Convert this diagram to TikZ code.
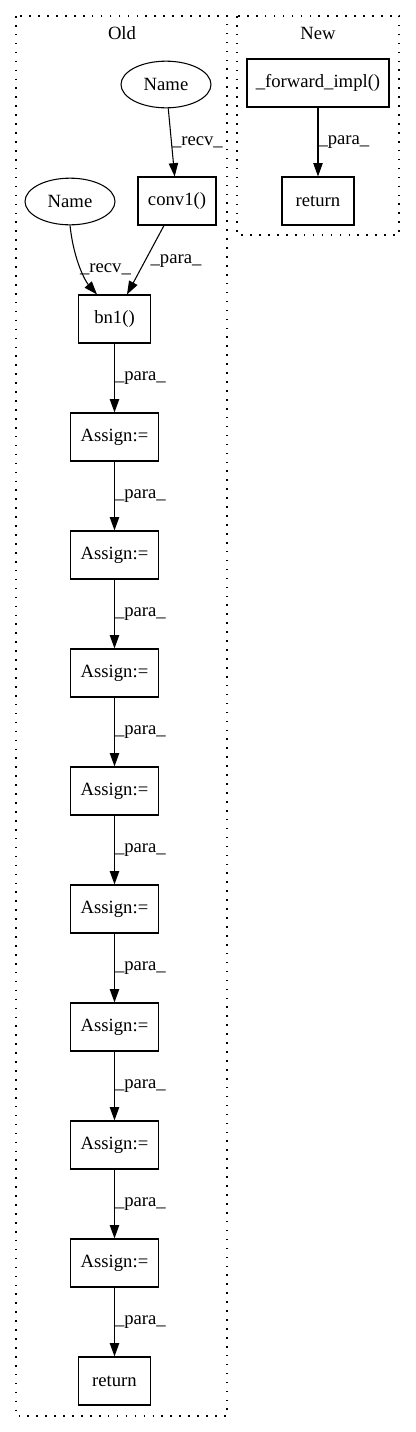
\documentclass[tikz,border=0pt]{standalone}
\usepackage{fontspec}
\setmainfont{Liberation Serif}
\usetikzlibrary{arrows.meta,shapes.geometric,calc}

\begin{document}
\begin{tikzpicture}
	[x=0.75pt, y=-0.75pt,
	every node/.style = {font=\fontsize{14pt}{16pt}\selectfont, inner sep=0pt},
	box/.style = {shape=rectangle, draw, line width=0.8pt, minimum height=36pt, minimum width=#1},
	box/.default = 54pt,
	oval/.style = {shape=ellipse, draw, line width=0.8pt, minimum height=35pt, minimum width=67.5pt},
	edge/.style = {draw, line width=0.8pt, -{Triangle[length=10pt,width=7pt]}},
	lbl/.style = {anchor=west},
	cluster/.style = {draw, line width=0.8pt, dash pattern=on 1.2pt off 5.5pt}]
	\useasboundingbox (0,0) rectangle (416,1432);
	% clusters
	\draw[cluster] (16,16) rectangle (227,1416);
	\draw[cluster] (237,16) rectangle (399,235);
	\node (oldlbl) at (122,33) {Old};
	\node (newlbl) at (318,33) {New};
	% old
	\node[oval] (name1) at (166,84.5) {Name};
	\node[box=58.5pt] (conv1) at (177,201) {conv1()};
	\node[oval] (name2) at (70,201.5) {Name};
	\node[box] (bn1) at (114.5,319) {bn1()};
	\foreach \i in {1,...,8}
		\node[box=66pt] (assign\i) at (114.5,{319+118*\i}) {Assign:=};
	\node[box] (ret1) at (114.5,1381) {return};
	% new
	\node[box=106.5pt] (fwd) at (318,83) {\_forward\_impl()};
	\node[box] (ret2) at (318,201) {return};
	% edges
	\draw[edge] (name1) -- node[lbl, pos=0.5]{\_recv\_} (conv1);
	\draw[edge] (name2.south) .. controls (74,262) and (86,282) .. ($(bn1.north)+(-17.5,0)$)
		node[lbl, pos=0.5, xshift=-1pt]{\_recv\_};
	\draw[edge] ($(conv1.south)+(-13,0)$) -- node[lbl, pos=0.52, xshift=4pt]{\_para\_} ($(bn1.north)+(12.5,0)$);
	\draw[edge] (bn1) -- node[lbl]{\_para\_} (assign1);
	\foreach \i [evaluate=\i as \j using int(\i+1)] in {1,...,7}
		\draw[edge] (assign\i) -- node[lbl]{\_para\_} (assign\j);
	\draw[edge] (assign8) -- node[lbl]{\_para\_} (ret1);
	\draw[edge] (fwd) -- node[lbl]{\_para\_} (ret2);
\end{tikzpicture}
\end{document}
